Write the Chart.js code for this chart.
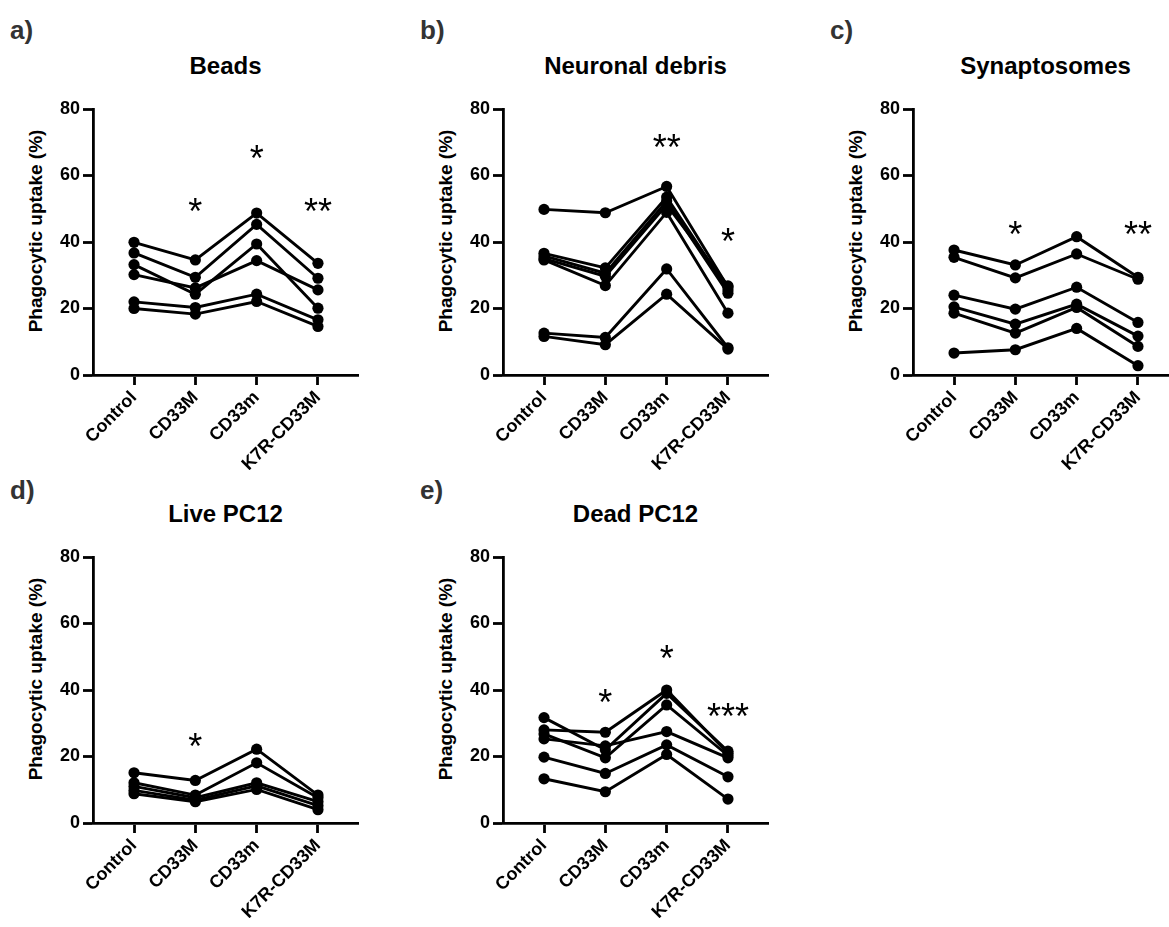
<!DOCTYPE html>
<html><head><meta charset="utf-8">
<script src="https://cdn.jsdelivr.net/npm/chart.js@4"></script>
<style>
body{margin:0;background:#fff;}
#page{position:relative;width:1169px;height:927px;overflow:hidden;font-family:"Liberation Sans",Arial,sans-serif;background:#fff;}
canvas{position:absolute;}
.letter{position:absolute;font-weight:bold;font-size:26px;color:#333;line-height:1;transform:translateY(-50%);}
.title{position:absolute;font-weight:bold;font-size:24px;color:#000;white-space:nowrap;line-height:1;transform:translate(-50%,-50%);}
.ytitle{position:absolute;font-weight:bold;font-size:19px;color:#000;white-space:nowrap;line-height:1;transform:translate(-50%,-50%) rotate(-90deg);}
</style></head>
<body><div id="page"></div>
<script>
const categories = ['Control','CD33M','CD33m','K7R-CD33M'];
const yTicks = [0,20,40,60,80];

const beads = [
  [39.9, 34.6, 48.7, 33.6],
  [36.7, 29.4, 45.3, 29.1],
  [33.2, 24.3, 39.4, 20.1],
  [30.2, 26.2, 34.4, 25.6],
  [22.0, 20.3, 24.3, 16.6],
  [20.0, 18.3, 22.1, 14.6]
];
const beadsStars = ['', '*', '*', '**'];
const beadsStarLevel = [null, 51, 67, 51];

const debris = [
  [49.8, 48.8, 56.7, 26.5],
  [36.6, 32.2, 53.5, 25.6],
  [35.8, 30.6, 52.3, 24.6],
  [35.0, 29.7, 51.2, 26.8],
  [34.6, 26.9, 48.9, 18.6],
  [12.6, 11.3, 31.9, 8.2],
  [11.6, 9.1, 24.3, 7.8]
];
const debrisStars = ['', '', '**', '*'];
const debrisStarLevel = [null, null, 70.5, 42];

const synaptosomes = [
  [37.6, 33.1, 41.6, 29.4],
  [35.4, 29.2, 36.4, 28.8],
  [24.0, 19.8, 26.4, 15.8],
  [20.5, 15.3, 21.3, 11.7],
  [18.6, 12.6, 20.3, 8.6],
  [6.6, 7.6, 14.0, 2.8]
];
const synaptosomesStars = ['', '*', '', '**'];
const synaptosomesStarLevel = [null, 44.2, null, 44.2];

const livePC12 = [
  [15.1, 12.8, 22.2, 8.4],
  [12.1, 8.4, 18.1, 7.6],
  [11.0, 7.6, 12.1, 6.4],
  [9.8, 6.9, 11.2, 5.2],
  [8.8, 6.4, 10.1, 4.0]
];
const livePC12Stars = ['', '*', '', ''];
const livePC12StarLevel = [null, 24.9, null, null];

const deadPC12 = [
  [31.7, 22.0, 39.0, 21.6],
  [28.0, 27.3, 40.0, 21.0],
  [26.8, 19.6, 35.5, 20.3],
  [25.3, 23.2, 27.5, 19.6],
  [19.8, 14.9, 23.5, 13.9],
  [13.3, 9.4, 20.6, 7.2]
];
const deadPC12Stars = ['', '*', '*', '***'];
const deadPC12StarLevel = [null, 38.2, 51.3, 34.1];

const panels = [
  {letter:'a)', title:'Beads', series:beads, stars:beadsStars, levels:beadsStarLevel, axisX:93, rowTop:0},
  {letter:'b)', title:'Neuronal debris', series:debris, stars:debrisStars, levels:debrisStarLevel, axisX:503, rowTop:0},
  {letter:'c)', title:'Synaptosomes', series:synaptosomes, stars:synaptosomesStars, levels:synaptosomesStarLevel, axisX:913, rowTop:0},
  {letter:'d)', title:'Live PC12', series:livePC12, stars:livePC12Stars, levels:livePC12StarLevel, axisX:93, rowTop:448},
  {letter:'e)', title:'Dead PC12', series:deadPC12, stars:deadPC12Stars, levels:deadPC12StarLevel, axisX:503, rowTop:448}
];

const FONT = '"Liberation Sans", Arial, sans-serif';
const starPlugin = {
  id: 'stars',
  afterDatasetsDraw(chart, args, opts) {
    const {ctx} = chart;
    const x = chart.scales.x, y = chart.scales.y;
    ctx.save();
    ctx.font = '36px ' + FONT;
    ctx.fillStyle = '#000';
    ctx.textAlign = 'center';
    ctx.textBaseline = 'alphabetic';
    opts.stars.forEach((s, i) => {
      if (!s) return;
      const px = x.getPixelForValue(i);
      const py = y.getPixelForValue(opts.levels[i]);
      const m = ctx.measureText(s);
      const cy = py + (m.actualBoundingBoxAscent - m.actualBoundingBoxDescent) / 2;
      ctx.fillText(s, px, cy);
    });
    ctx.restore();
  }
};

const page = document.getElementById('page');
const W = 380, H = 470, PAD_TOP = 109, PAD_RIGHT = 22, YW = 93, XH = 95;

panels.forEach(p => {
  const left = p.axisX - YW;
  const chartLeft = p.axisX, chartRight = left + W - PAD_RIGHT;

  const letter = document.createElement('div');
  letter.className = 'letter';
  letter.textContent = p.letter;
  letter.style.left = (p.axisX - 83) + 'px';
  letter.style.top = (p.rowTop === 0 ? 30 : 490) + 'px';
  page.appendChild(letter);

  const title = document.createElement('div');
  title.className = 'title';
  title.textContent = p.title;
  title.style.left = ((chartLeft + chartRight) / 2) + 'px';
  title.style.top = (p.rowTop + 66) + 'px';
  page.appendChild(title);

  const yt = document.createElement('div');
  yt.className = 'ytitle';
  yt.textContent = 'Phagocytic uptake (%)';
  yt.style.left = (p.axisX - 58) + 'px';
  yt.style.top = (p.rowTop + 231) + 'px';
  page.appendChild(yt);

  const c = document.createElement('canvas');
  c.width = W; c.height = H;
  c.style.left = left + 'px'; c.style.top = p.rowTop + 'px';
  c.style.width = W + 'px'; c.style.height = H + 'px';
  page.appendChild(c);

  const datasets = p.series.map(vals => ({
    data: vals.map((v, i) => ({x: i, y: v})),
    borderColor: '#000',
    backgroundColor: '#000',
    pointBackgroundColor: '#000',
    pointBorderColor: '#000',
    borderWidth: 2.9,
    pointRadius: 5.6,
    pointBorderWidth: 0,
    tension: 0,
    clip: false
  }));

  new Chart(c, {
    type: 'line',
    data: {datasets},
    options: {
      responsive: false,
      animation: false,
      events: [],
      layout: {padding: {top: PAD_TOP, right: PAD_RIGHT, bottom: 0, left: 0}},
      plugins: {legend: {display: false}, tooltip: {enabled: false}, title: {display: false},
        stars: {stars: p.stars, levels: p.levels}},
      scales: {
        x: {
          type: 'linear',
          min: -0.669, max: 3.653,
          afterBuildTicks: s => { s.ticks = categories.map((_, i) => ({value: i})); },
          afterFit: s => { s.height = XH; },
          grid: {drawOnChartArea: false, drawTicks: true, tickLength: 10, tickWidth: 2.8, color: '#000'},
          border: {display: true, color: '#000', width: 2.8},
          ticks: {autoSkip: false, minRotation: 45, maxRotation: 45, padding: 2, color: '#000',
            font: {family: FONT, size: 18, weight: 'bold'},
            callback: v => categories[v]}
        },
        y: {
          type: 'linear',
          min: 0, max: 80,
          afterBuildTicks: s => { s.ticks = yTicks.map(v => ({value: v})); },
          afterFit: s => { s.width = YW; },
          grid: {drawOnChartArea: false, drawTicks: true, tickLength: 10, tickWidth: 2.8, color: '#000'},
          border: {display: true, color: '#000', width: 2.8},
          ticks: {padding: 3, color: '#000', font: {family: FONT, size: 18, weight: 'bold'}}
        }
      }
    },
    plugins: [starPlugin]
  });
});
</script>
</body></html>
